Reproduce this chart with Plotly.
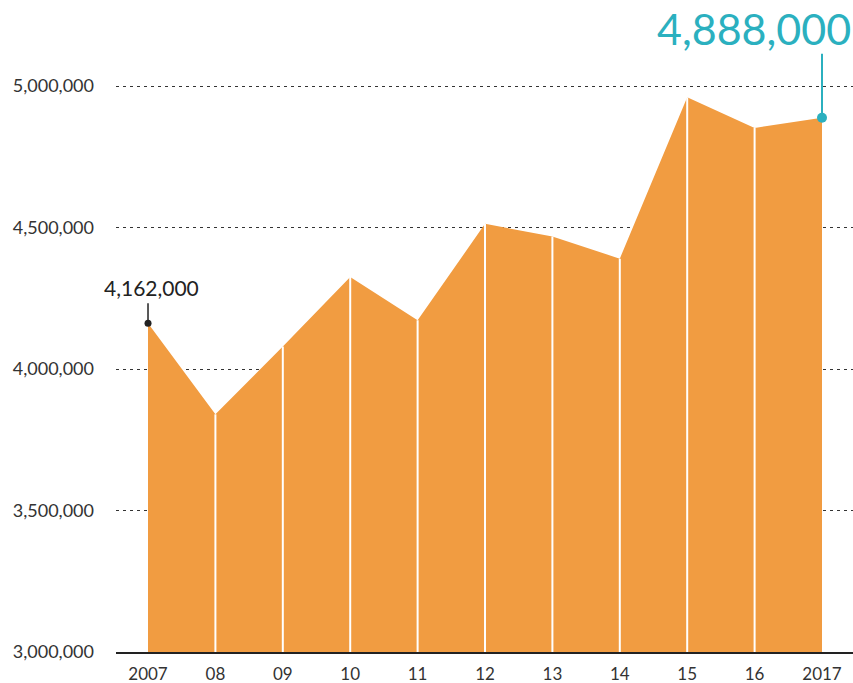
import plotly.graph_objects as go

years = [2007, 2008, 2009, 2010, 2011, 2012, 2013, 2014, 2015, 2016, 2017]
tick_labels = ["2007", "08", "09", "10", "11", "12", "13", "14", "15", "16", "2017"]
values = [4162000, 3840000, 4080000, 4325000, 4172000, 4513000, 4468000, 4390000, 4960000, 4852000, 4888000]
y_ticks = [3000000, 3500000, 4000000, 4500000, 5000000]
y_tick_labels = ["3,000,000", "3,500,000", "4,000,000", "4,500,000", "5,000,000"]

ORANGE = "#F19C41"
TEAL = "#2BB0BF"
FONT = "Lato, 'Noto Sans', sans-serif"
Y_MIN = 3000000

fig = go.Figure()

# filled area
fig.add_trace(go.Scatter(
    x=years, y=values, mode="lines", fill="tozeroy",
    fillcolor=ORANGE, line=dict(width=0, color=ORANGE), hoverinfo="skip",
))

# white separators at interior years
sep_x, sep_y = [], []
for yr, v in zip(years[1:-1], values[1:-1]):
    sep_x += [yr, yr, None]
    sep_y += [Y_MIN, v, None]
fig.add_trace(go.Scatter(
    x=sep_x, y=sep_y, mode="lines", line=dict(color="white", width=2),
    hoverinfo="skip",
))

# highlighted points
fig.add_trace(go.Scatter(
    x=[years[0]], y=[values[0]], mode="markers",
    marker=dict(color="#222222", size=7), hoverinfo="skip",
))
fig.add_trace(go.Scatter(
    x=[years[-1]], y=[values[-1]], mode="markers",
    marker=dict(color=TEAL, size=10), hoverinfo="skip",
))

# connector lines (pixel length above the points)
fig.add_shape(type="line", xref="x", yref="y", x0=years[0], x1=years[0],
              ysizemode="pixel", yanchor=values[0], y0=0, y1=20,
              line=dict(color="#222222", width=1.5), layer="above")
fig.add_shape(type="line", xref="x", yref="y", x0=years[-1], x1=years[-1],
              ysizemode="pixel", yanchor=values[-1], y0=0, y1=64,
              line=dict(color=TEAL, width=2), layer="above")

fig.add_annotation(x=years[0], y=values[0], text=f"{values[0]:,}",
                   showarrow=False, yshift=36, xshift=3,
                   font=dict(family=FONT, size=21, color="#222222"))
fig.add_annotation(x=years[-1], y=values[-1], text=f"{values[-1]:,}",
                   showarrow=False, xanchor="right", yshift=89, xshift=31,
                   font=dict(family=FONT, size=43, color=TEAL))

fig.update_layout(
    width=853, height=683,
    margin=dict(l=116, r=0, t=0, b=31),
    paper_bgcolor="white", plot_bgcolor="white",
    showlegend=False,
    font=dict(family=FONT, size=18, color="#333333"),
    xaxis=dict(
        range=[2006.525, 2017.46], tickmode="array", tickvals=years,
        ticktext=tick_labels, showgrid=False, zeroline=False,
        showline=True, linecolor="#222222", linewidth=2,
        ticks="", ticklabelstandoff=6,
        tickfont=dict(family=FONT, size=17, color="#333333"),
    ),
    yaxis=dict(
        range=[Y_MIN, 5304000], tickmode="array", tickvals=y_ticks,
        ticktext=y_tick_labels, showgrid=True, gridcolor="#333333",
        gridwidth=1, griddash="3px,4px", zeroline=False, showline=False,
        ticks="", ticklabelstandoff=21,
        tickfont=dict(family=FONT, size=18, color="#333333"),
    ),
)

fig.write_html(
    "out.html",
    config={"displayModeBar": False},
    post_script="document.body.style.margin='0';document.body.style.overflow='hidden';",
)
